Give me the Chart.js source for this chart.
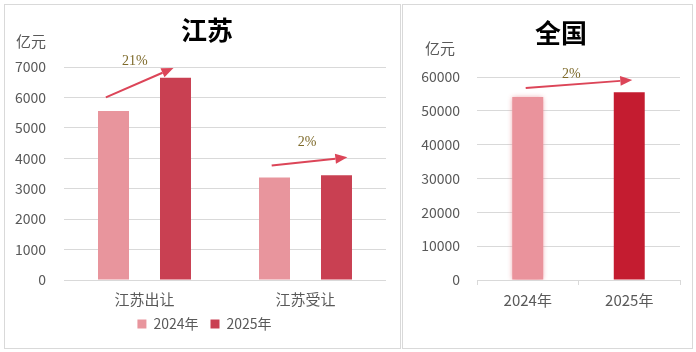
<!DOCTYPE html>
<html><head><meta charset="utf-8">
<script src="https://cdn.jsdelivr.net/npm/chart.js@4.4.1/dist/chart.umd.min.js"></script>
<style>
html,body{margin:0;padding:0;background:#fff;width:696px;height:352px;overflow:hidden;}
.panel{position:absolute;box-sizing:border-box;border:1px solid #D9D9D9;background:#fff;}
#pl{left:4px;top:4px;width:397px;height:345px;}
#pr{left:402px;top:4px;width:291px;height:345px;}
.panel canvas{position:absolute;left:0;top:0;}
</style></head>
<body>
<div class="panel" id="pl"><canvas id="cl" width="395" height="343"></canvas></div>
<div class="panel" id="pr"><canvas id="cr" width="289" height="343"></canvas></div>
<script>
// ---- data ----
const leftTitle = '江苏';
const rightTitle = '全国';
const unitLabel = '亿元';
const seriesNames = ['2024年', '2025年'];
const leftCategories = ['江苏出让', '江苏受让'];
const left2024 = [5550, 3370];
const left2025 = [6650, 3440];
const leftYMax = 7000, leftYStep = 1000;
const rightCategories = ['2024年', '2025年'];
const right2024 = [54100, null];
const right2025 = [null, 55500];
const rightYMax = 60000, rightYStep = 10000;
const leftGrowth = ['21%', '2%'];
const rightGrowth = ['2%'];
// arrow anchors in data space: [categoryPosition, value]
const leftArrowFrom = [[-0.24, 6000], [0.79, 3760]];
const leftArrowTo = [[0.18, 6970], [1.26, 4030]];
const leftLabelAt = [[-0.06, 7200], [1.01, 4520]];
const rightArrowFrom = [[-0.02, 56750]];
const rightArrowTo = [[1.03, 59120]];
const rightLabelAt = [[0.43, 60900]];

const FONT = '"Noto Sans CJK SC", "Noto Sans", sans-serif';
const GRID = '#D9D9D9';
const TICK = '#595959';
const ARROW = '#DC4558';
const plain = v => String(v);

function arrowPlugin(from, to, labels, at, title, titlePos, unitPos) {
  return {
    id: 'deco',
    afterDraw(chart) {
      const ctx = chart.ctx, xs = chart.scales.x, ys = chart.scales.y;
      ctx.save();
      ctx.fillStyle = '#000';
      ctx.font = 'bold 26px ' + FONT;
      ctx.textAlign = 'center'; ctx.textBaseline = 'middle';
      ctx.fillText(title, titlePos[0], titlePos[1]);
      ctx.fillStyle = TICK;
      ctx.font = '15px ' + FONT;
      ctx.fillText(unitLabel, unitPos[0], unitPos[1]);
      for (let i = 0; i < from.length; i++) {
        const x0 = xs.getPixelForValue(from[i][0]), y0 = ys.getPixelForValue(from[i][1]);
        const x1 = xs.getPixelForValue(to[i][0]), y1 = ys.getPixelForValue(to[i][1]);
        const ang = Math.atan2(y1 - y0, x1 - x0);
        const hl = 12, hw = 5;
        const bx = x1 - hl * Math.cos(ang), by = y1 - hl * Math.sin(ang);
        ctx.strokeStyle = ARROW; ctx.fillStyle = ARROW; ctx.lineWidth = 2;
        ctx.beginPath(); ctx.moveTo(x0, y0); ctx.lineTo(bx, by); ctx.stroke();
        ctx.beginPath();
        ctx.moveTo(x1, y1);
        ctx.lineTo(bx + hw * Math.sin(ang), by - hw * Math.cos(ang));
        ctx.lineTo(bx - hw * Math.sin(ang), by + hw * Math.cos(ang));
        ctx.closePath(); ctx.fill();
        ctx.fillStyle = '#7E6A2A';
        ctx.font = '14px "Liberation Serif", serif';
        ctx.fillText(labels[i], xs.getPixelForValue(at[i][0]), ys.getPixelForValue(at[i][1]));
      }
      ctx.restore();
    }
  };
}

const glowPlugin = {
  id: 'glow',
  beforeDatasetDraw(chart, args) {
    if (args.index === 0) {
      chart.ctx.save();
      chart.ctx.shadowColor = 'rgba(234,147,155,0.9)';
      chart.ctx.shadowBlur = 5;
    }
  },
  afterDatasetDraw(chart, args) {
    if (args.index === 0) chart.ctx.restore();
  }
};

const legendShift = {
  id: 'legendShift',
  afterLayout(chart) {
    if (chart.legend) {
      chart.legend.left += 9; chart.legend.right += 9;
      chart.legend.top -= 2; chart.legend.bottom -= 2;
    }
  }
};

new Chart(document.getElementById('cl'), {
  type: 'bar',
  data: {
    labels: leftCategories,
    datasets: [
      { label: seriesNames[0], data: left2024, backgroundColor: '#E8959D' },
      { label: seriesNames[1], data: left2025, backgroundColor: '#C94052' }
    ]
  },
  options: {
    responsive: false, animation: false, devicePixelRatio: 1,
    categoryPercentage: 0.77, barPercentage: 0.5,
    layout: { padding: { top: 62, left: 0, right: 14, bottom: 5 } },
    plugins: {
      legend: {
        position: 'bottom',
        labels: { boxWidth: 9, boxHeight: 9, padding: 12, color: TICK, font: { size: 14, family: FONT } }
      },
      tooltip: { enabled: false }, title: { display: false }
    },
    scales: {
      x: {
        grid: { display: false }, border: { display: false },
        ticks: { color: TICK, padding: 2, font: { size: 15, family: FONT } },
        afterFit(s) { s.height = 27; }
      },
      y: {
        min: 0, max: leftYMax,
        ticks: { stepSize: leftYStep, callback: plain, color: TICK, padding: 18, font: { size: 14, family: FONT } },
        grid: { color: GRID, drawTicks: false }, border: { display: false },
        afterFit(s) { s.width = 59; }
      }
    }
  },
  plugins: [legendShift, arrowPlugin(leftArrowFrom, leftArrowTo, leftGrowth, leftLabelAt, leftTitle, [202, 25], [26, 36])]
});

new Chart(document.getElementById('cr'), {
  type: 'bar',
  data: {
    labels: rightCategories,
    datasets: [
      { label: seriesNames[0], data: right2024, backgroundColor: '#EA939C' },
      { label: seriesNames[1], data: right2025, backgroundColor: '#C41C30' }
    ]
  },
  options: {
    responsive: false, animation: false, devicePixelRatio: 1,
    grouped: false, categoryPercentage: 1, barPercentage: 0.305,
    layout: { padding: { top: 72, left: 0, right: 12, bottom: 30 } },
    plugins: { legend: { display: false }, tooltip: { enabled: false }, title: { display: false } },
    scales: {
      x: {
        grid: { display: true, drawOnChartArea: false, drawTicks: true, tickLength: 5, color: GRID, offset: true },
        border: { display: true, color: GRID },
        ticks: { color: TICK, padding: 6, font: { size: 15, family: FONT } },
        afterFit(s) { s.height = 38; }
      },
      y: {
        min: 0, max: rightYMax,
        ticks: { stepSize: rightYStep, callback: plain, color: TICK, padding: 17, font: { size: 14, family: FONT } },
        grid: { color: GRID, drawTicks: false }, border: { display: false },
        afterFit(s) { s.width = 74; }
      }
    }
  },
  plugins: [glowPlugin, arrowPlugin(rightArrowFrom, rightArrowTo, rightGrowth, rightLabelAt, rightTitle, [158, 28], [37, 43])]
});
</script>
</body></html>
